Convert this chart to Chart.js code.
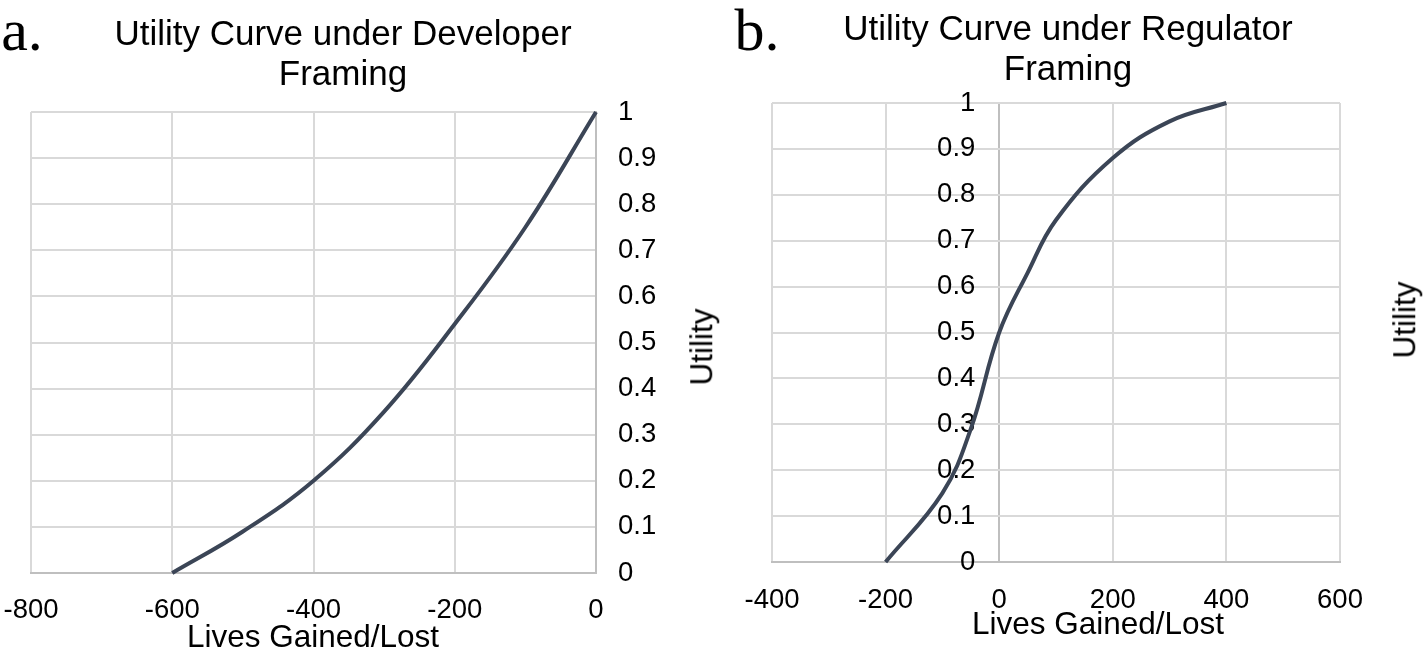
<!DOCTYPE html>
<html>
<head>
<meta charset="utf-8">
<script src="https://cdn.jsdelivr.net/npm/chart.js@4"></script>
<style>
  body { margin: 0; background: #fff; width: 1424px; height: 652px; position: relative; overflow: hidden; font-family: "Liberation Sans", Arial, sans-serif; color: #000; }
  canvas { position: absolute; top: 0; }
  .lbl { position: absolute; white-space: nowrap; transform: translate(-50%, -50%); line-height: 1; }
  .title { font-size: 35px; line-height: 40px; text-align: center; }
  .axt { font-size: 31.5px; }
  .rot { transform: translate(-50%, -50%) rotate(-90deg); }
  .panel { font-family: "Liberation Serif", "Times New Roman", serif; font-size: 60px; }
</style>
</head>
<body>
<canvas id="devChart" style="left:0px" width="686" height="652"></canvas>
<canvas id="regChart" style="left:712px" width="712" height="652"></canvas>

<div class="lbl panel" style="left:22px;top:30px">a.</div>
<div class="lbl panel" style="left:757px;top:30px">b.</div>
<div class="lbl title" style="left:343px;top:53px">Utility Curve under Developer<br>Framing</div>
<div class="lbl title" style="left:1068px;top:48px">Utility Curve under Regulator<br>Framing</div>
<div class="lbl axt" style="left:313px;top:637px">Lives Gained/Lost</div>
<div class="lbl axt" style="left:1098px;top:624px">Lives Gained/Lost</div>
<div class="lbl axt rot" style="left:702px;top:347px">Utility</div>
<div class="lbl axt rot" style="left:1405px;top:320px">Utility</div>

<script>
// developer framing (a)
const devLives = [-600, -500, -400, -300, -200, -100, 0];
const devUtility = [0, 0.09, 0.2, 0.35, 0.54, 0.75, 1];

// regulator framing (b)
const regLives = [-200, -100, -50, 0, 50, 100, 200, 300, 400];
const regUtility = [0, 0.15, 0.29, 0.5, 0.63, 0.745, 0.88, 0.96, 1];

const lineColor = '#3b4556';
const gridColor = '#d9d9d9';
const axisColor = '#bfbfbf';
const tickFont = { family: 'Liberation Sans', size: 27.5 };

const toPoints = (xs, ys) => xs.map((x, i) => ({ x: x, y: ys[i] }));
const fmt = v => String(Number(v.toFixed(1)));

const lineDataset = (xs, ys) => ({
    data: toPoints(xs, ys),
    borderColor: lineColor,
    borderWidth: 4,
    pointRadius: 0,
    tension: 0.4,
    fill: false,
    clip: false
});

const basePlugins = {
    legend: { display: false },
    tooltip: { enabled: false },
    title: { display: false }
};

const noPad = s => { s.paddingLeft = 0; s.paddingRight = 0; s.paddingTop = 0; s.paddingBottom = 0; };

// chart a
new Chart(document.getElementById('devChart').getContext('2d'), {
    type: 'line',
    data: { datasets: [lineDataset(devLives, devUtility)] },
    options: {
        responsive: false,
        animation: false,
        layout: { padding: { left: 31, right: 30, top: 112, bottom: 29 } },
        plugins: basePlugins,
        scales: {
            x: {
                type: 'linear',
                min: -800, max: 0,
                ticks: { stepSize: 200, color: '#000', font: tickFont, padding: 21, maxRotation: 0 },
                grid: { color: gridColor, lineWidth: 2, drawTicks: false },
                border: { color: axisColor, width: 2 },
                afterFit: s => { s.height = 50; noPad(s); }
            },
            y: {
                position: 'right',
                min: 0, max: 1,
                ticks: { stepSize: 0.1, color: '#000', font: tickFont, padding: 22, callback: fmt },
                grid: { color: gridColor, lineWidth: 2, drawTicks: false },
                border: { color: axisColor, width: 2 },
                afterFit: s => { s.width = 60; noPad(s); }
            }
        }
    }
});

// chart b: value axis labels sit just left of the x = 0 line
new Chart(document.getElementById('regChart').getContext('2d'), {
    type: 'line',
    data: { datasets: [lineDataset(regLives, regUtility)] },
    options: {
        responsive: false,
        animation: false,
        layout: { padding: { left: 60, right: 84, top: 103, bottom: 40 } },
        plugins: basePlugins,
        scales: {
            x: {
                type: 'linear',
                min: -400, max: 600,
                ticks: { stepSize: 200, color: '#000', font: tickFont, padding: 22, maxRotation: 0 },
                grid: {
                    color: c => (c.tick && c.tick.value === 0 ? axisColor : gridColor),
                    lineWidth: 2, drawTicks: false
                },
                border: { color: axisColor, width: 2 },
                afterFit: s => { s.height = 50; noPad(s); }
            },
            y: {
                position: { x: -42 },
                min: 0, max: 1,
                ticks: { stepSize: 0.1, color: '#000', font: tickFont, padding: 0, callback: fmt },
                grid: { color: gridColor, lineWidth: 2, drawTicks: false },
                border: { display: false },
                afterFit: s => { s.width = 0; noPad(s); }
            }
        }
    }
});
</script>
</body>
</html>
